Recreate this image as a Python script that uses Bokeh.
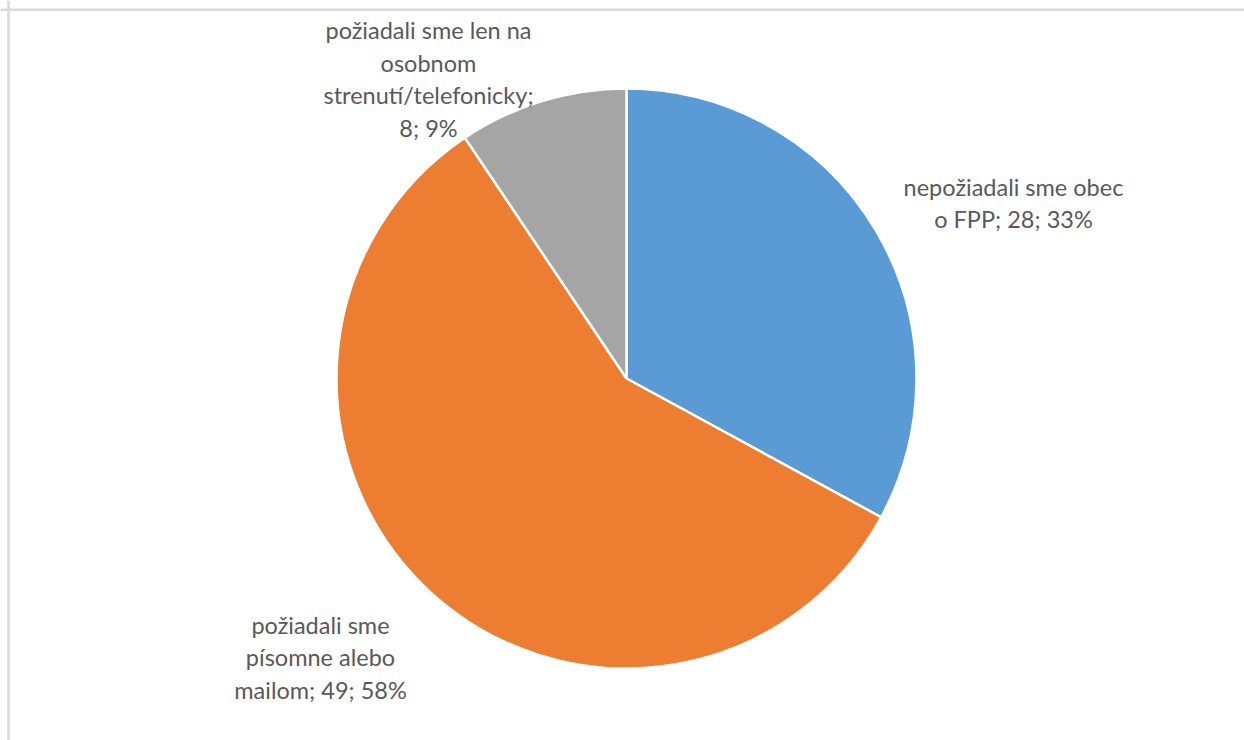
import math
from bokeh.plotting import figure
from bokeh.models import Range1d, Span, ColumnDataSource
from bokeh.core.properties import value
from bokeh.embed import file_html
from bokeh.resources import INLINE

# ---- data ----
categories = [
    "nepožiadali sme obec o FPP",
    "požiadali sme písomne alebo mailom",
    "požiadali sme len na osobnom strenutí/telefonicky",
]
counts = [28, 49, 8]
colors = ["#5B9BD5", "#ED7D31", "#A5A5A5"]
# how each category label is wrapped
wrapped = [
    ["nepožiadali sme obec", "o FPP;"],
    ["požiadali sme", "písomne alebo", "mailom;"],
    ["požiadali sme len na", "osobnom", "strenutí/telefonicky;", ""],
]

W, H = 1244, 740
# data coords: x = image x, y = 740 - image y (figure drawn at image origin)
p = figure(width=W, height=H, output_backend="svg", toolbar_location=None,
           x_range=Range1d(0, W), y_range=Range1d(740 - H, 740),
           min_border=0)
p.axis.visible = False
p.grid.visible = False
p.outline_line_color = None
p.background_fill_color = "white"
p.border_fill_color = "white"

cx, cy, r = 626, 740 - 378, 290
total = sum(counts)
starts, ends = [], []
cum = 0
for c in counts:
    starts.append(math.pi / 2 - 2 * math.pi * cum / total)
    cum += c
    ends.append(math.pi / 2 - 2 * math.pi * cum / total)

src = ColumnDataSource(dict(start=starts, end=ends, color=colors))
p.wedge(x=cx, y=cy, radius=r, start_angle="start", end_angle="end",
        direction="clock", fill_color="color", line_color="white",
        line_width=2.5, source=src)

# labels
pcts = [round(100 * c / total) for c in counts]
texts = []
for lines, c, pc in zip(wrapped, counts, pcts):
    ls = list(lines)
    if ls[-1] == "":
        ls[-1] = f"{c}; {pc}%"
    else:
        ls[-1] = f"{ls[-1]} {c}; {pc}%"
    texts.append("\n".join(ls))

lx = [1013, 320, 428]
ly = [740 - 202.5, 740 - 657, 740 - 78.5]
p.text(x=lx, y=ly, text=texts, text_align="center", text_baseline="middle",
       text_font=value("Lato"), text_font_size="23.5px", text_color="#595959",
       text_line_height=1.16)

# chart area border (left and top visible)
p.add_layout(Span(location=8, dimension="height", line_color="#d9d9d9", line_width=2.5))
p.add_layout(Span(location=740 - 9.3, dimension="width", line_color="#d9d9d9", line_width=2.5))

open("out.html", "w").write(file_html(p, INLINE))
